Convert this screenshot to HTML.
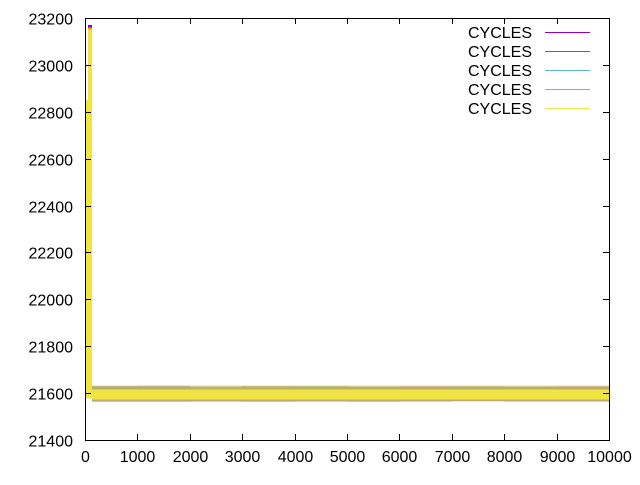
<!DOCTYPE html>
<html><head><meta charset="utf-8"><style>
body{margin:0;background:#fff}
svg text{font-family:"Liberation Sans",sans-serif;font-size:16px;fill:#000}
</style></head><body>
<svg id="chart" width="640" height="480">
<rect x="0" y="0" width="640" height="480" fill="#fff"/>
<g id="marks" shape-rendering="crispEdges"></g>
<g id="axes" shape-rendering="crispEdges"></g>
<g id="legend"></g>
</svg>
<script>
// bucket edges along x (iteration index)
const bucketStart = [0, 60, 130, 1000, 2000, 3000, 4000, 5000, 6000, 7000, 8000, 9000];
const bucketEnd   = [60, 130, 1000, 2000, 3000, 4000, 5000, 6000, 7000, 8000, 9000, 10000];
const seriesNames = ["CYCLES","CYCLES","CYCLES","CYCLES","CYCLES"];
const seriesColors = ["#9400d3","#009e73","#56b4e9","#e69f00","#f0e442"];
const purpleHi = [22600, 23170, 21628, 21628, 21625, 21628, 21626, 21627, 21628, 21626, 21627, 21628];
const purpleLo = [21580, 21580, 21563, 21563, 21563, 21562, 21563, 21563, 21563, 21564, 21563, 21563];
const greenHi  = [22400, 23000, 21630, 21632, 21628, 21630, 21630, 21628, 21629, 21630, 21628, 21629];
const greenLo  = [21580, 21580, 21565, 21565, 21566, 21565, 21566, 21565, 21566, 21566, 21566, 21566];
const blueHi   = [22750, 22900, 21628, 21628, 21628, 21627, 21628, 21628, 21628, 21627, 21628, 21628];
const blueLo   = [21580, 21580, 21566, 21566, 21566, 21566, 21566, 21566, 21566, 21566, 21566, 21566];
const orangeHi = [22850, 23160, 21632, 21632, 21632, 21632, 21632, 21632, 21632, 21632, 21632, 21632];
const orangeLo = [21580, 21580, 21567, 21567, 21567, 21567, 21567, 21567, 21567, 21567, 21567, 21567];
const yellowHi = [22850, 23150, 21615, 21615, 21615, 21615, 21615, 21615, 21615, 21615, 21615, 21615];
const yellowLo = [21580, 21578, 21572, 21572, 21572, 21572, 21572, 21572, 21572, 21572, 21572, 21572];
const xTicks = [0,1000,2000,3000,4000,5000,6000,7000,8000,9000,10000];
const yTicks = [21400,21600,21800,22000,22200,22400,22600,22800,23000,23200];

const L=85,R=609,T=18,B=440, XMIN=0,XMAX=10000,YMIN=21400,YMAX=23200;
const sx=v=>L+(v-XMIN)/(XMAX-XMIN)*(R-L);
const sy=v=>B-(v-YMIN)/(YMAX-YMIN)*(B-T);
const NS="http://www.w3.org/2000/svg";
function mk(tag,attrs,parent){const e=document.createElementNS(NS,tag);for(const k in attrs)e.setAttribute(k,attrs[k]);parent.appendChild(e);return e;}
const marks=document.getElementById('marks'),axes=document.getElementById('axes'),legend=document.getElementById('legend');
const his=[purpleHi,greenHi,blueHi,orangeHi,yellowHi], los=[purpleLo,greenLo,blueLo,orangeLo,yellowLo];
const ops=[0.25,0.25,0.25,0.45,1];
for(let s=0;s<5;s++){
  for(let i=0;i<bucketStart.length;i++){
    const x0=sx(bucketStart[i]),x1=sx(bucketEnd[i]);
    const op = i<2 ? 1 : ops[s];
    const r=mk('rect',{x:x0,y:sy(his[s][i]),width:Math.max(1,x1-x0),height:sy(los[s][i])-sy(his[s][i]),fill:seriesColors[s],'fill-opacity':op},marks);
    
    
  }
}
const frame=mk('rect',{x:L+0.5,y:T+0.5,width:R-L,height:B-T,fill:'none',stroke:'#000','stroke-width':1},axes);


xTicks.forEach(v=>{
  const x=Math.round(sx(v))+0.5;
  mk('line',{x1:x,x2:x,y1:B,y2:B-6,stroke:'#000'},axes);
  mk('line',{x1:x,x2:x,y1:T,y2:T+6,stroke:'#000'},axes);
  const t=mk('text',{x:x,y:B+22,'text-anchor':'middle'},axes);t.textContent=v;
  
  
});
yTicks.forEach(v=>{
  const y=Math.round(sy(v))+0.5;
  mk('line',{x1:L,x2:L+6,y1:y,y2:y,stroke:'#000'},axes);
  mk('line',{x1:R,x2:R-6,y1:y,y2:y,stroke:'#000'},axes);
  const t=mk('text',{x:73,y:y+6,'text-anchor':'end'},axes);t.textContent=v;
  
  
});
seriesNames.forEach((n,i)=>{
  const y=32+i*19;
  const g=mk('g',{},legend);
  
  
  const t=mk('text',{x:532,y:y+6,'text-anchor':'end'},g);t.textContent=n;
  mk('line',{x1:545,x2:590,y1:y+0.5,y2:y+0.5,stroke:seriesColors[i],'stroke-width':1},g);
});
</script>
</body></html>
